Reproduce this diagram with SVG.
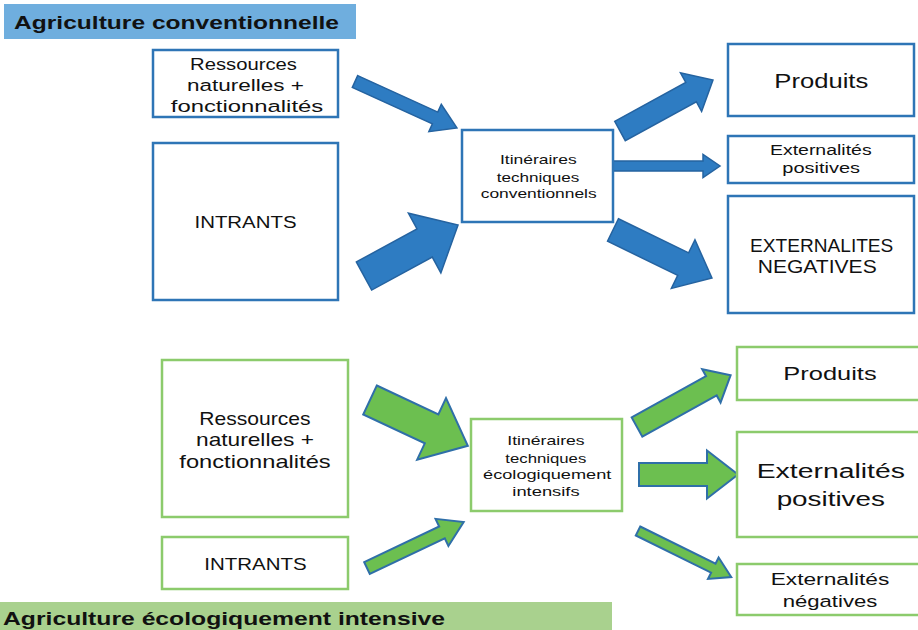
<svg xmlns="http://www.w3.org/2000/svg" width="918" height="630" viewBox="0 0 918 630">
<defs>
<style>
text{font-family:"Liberation Sans","Open Sans",sans-serif;fill:#111;text-anchor:middle}
.title{font-weight:bold;text-anchor:start;font-size:19px}
.bbox{fill:#fff;stroke:#2E75B6;stroke-width:2.5}
.gbox{fill:#fff;stroke:#8CCB6C;stroke-width:2.5}
.barrow{fill:#2E7CC2;stroke:#2563A0;stroke-width:1.5;stroke-linejoin:miter}
.garrow{fill:#6CBF50;stroke:#2F6FA8;stroke-width:2;stroke-linejoin:miter}
</style>
</defs>
<rect width="918" height="630" fill="#fff"/>
<g id="title-conv">
<rect x="4" y="4" width="352" height="35" fill="#6FAEDE"/>
<text class="title" x="14" y="28.5" textLength="325" lengthAdjust="spacingAndGlyphs">Agriculture conventionnelle</text>
</g>
<g id="title-eco">
<rect x="0" y="602" width="612" height="28" fill="#A9D18E"/>
<text class="title" x="3" y="624.5" textLength="442" lengthAdjust="spacingAndGlyphs">Agriculture écologiquement intensive</text>
</g>
<g id="connectors">
<polygon class="barrow" transform="translate(355,81.5) rotate(24.5)" points="0,-6.5 88,-6.5 88,-15 112,0 88,15 88,6.5 0,6.5"/>
<polygon class="barrow" transform="translate(364,276) rotate(-28.5)" points="0,-16 69,-16 69,-34 107,0 69,34 69,16 0,16"/>
<polygon class="barrow" transform="translate(620,131) rotate(-28.7)" points="0,-11 81,-11 81,-22 106,0 81,22 81,11 0,11"/>
<polygon class="barrow" transform="translate(613,166)" points="0,-5 90,-5 90,-11.5 107,0 90,11.5 90,5 0,5"/>
<polygon class="barrow" transform="translate(613,230) rotate(25.9)" points="0,-12.5 78,-12.5 78,-27 110,0 78,27 78,12.5 0,12.5"/>
<polygon class="garrow" transform="translate(370,400) rotate(25.1)" points="0,-16 68,-16 68,-34 108,0 68,34 68,16 0,16"/>
<polygon class="garrow" transform="translate(367,568) rotate(-25.4)" points="0,-6.5 83,-6.5 83,-15 107,0 83,15 83,6.5 0,6.5"/>
<polygon class="garrow" transform="translate(637,427) rotate(-28.95)" points="0,-11 85,-11 85,-19 107,0 85,19 85,11 0,11"/>
<polygon class="garrow" transform="translate(639,474.5)" points="0,-11.5 68,-11.5 68,-24 99,0 68,24 68,11.5 0,11.5"/>
<polygon class="garrow" transform="translate(638,531) rotate(26.3)" points="0,-5 84,-5 84,-12 104,0 84,12 84,5 0,5"/>
</g>
<g id="conv-ressources">
<rect class="bbox" x="153" y="50" width="185" height="67"/>
<text font-size="17.2" x="243.5" y="70" textLength="107" lengthAdjust="spacingAndGlyphs">Ressources</text>
<text font-size="17.2" x="245.5" y="90.5" textLength="117" lengthAdjust="spacingAndGlyphs">naturelles +</text>
<text font-size="17.2" x="247" y="111.5" textLength="152.5" lengthAdjust="spacingAndGlyphs">fonctionnalités</text>
</g>
<g id="conv-intrants">
<rect class="bbox" x="153" y="143" width="185" height="157"/>
<text font-size="17.2" x="245.5" y="228.3" textLength="102" lengthAdjust="spacingAndGlyphs">INTRANTS</text>
</g>
<g id="conv-itineraires">
<rect class="bbox" x="462" y="130" width="151" height="92"/>
<text font-size="12.6" x="538.3" y="164" textLength="76.7" lengthAdjust="spacingAndGlyphs">Itinéraires</text>
<text font-size="12.6" x="538" y="181.5" textLength="82.7" lengthAdjust="spacingAndGlyphs">techniques</text>
<text font-size="12.6" x="538.7" y="198.3" textLength="116" lengthAdjust="spacingAndGlyphs">conventionnels</text>
</g>
<g id="conv-produits">
<rect class="bbox" x="728" y="44" width="186" height="72"/>
<text font-size="21" x="821.3" y="88.3" textLength="94" lengthAdjust="spacingAndGlyphs">Produits</text>
</g>
<g id="conv-ext-pos">
<rect class="bbox" x="728" y="136" width="186" height="47"/>
<text font-size="14" x="820.8" y="155" textLength="101.7" lengthAdjust="spacingAndGlyphs">Externalités</text>
<text font-size="14" x="821.2" y="173.3" textLength="77.7" lengthAdjust="spacingAndGlyphs">positives</text>
</g>
<g id="conv-ext-neg">
<rect class="bbox" x="728" y="196" width="186" height="117"/>
<text font-size="18.6" x="821.7" y="251.7" textLength="143.3" lengthAdjust="spacingAndGlyphs">EXTERNALITES</text>
<text font-size="18.6" x="817.2" y="272.7" textLength="119" lengthAdjust="spacingAndGlyphs">NEGATIVES</text>
</g>
<g id="eco-ressources">
<rect class="gbox" x="162" y="360" width="186" height="157"/>
<text font-size="17.7" x="255" y="425" textLength="111.3" lengthAdjust="spacingAndGlyphs">Ressources</text>
<text font-size="17.7" x="255" y="446" textLength="118" lengthAdjust="spacingAndGlyphs">naturelles +</text>
<text font-size="17.7" x="255" y="467.7" textLength="151.3" lengthAdjust="spacingAndGlyphs">fonctionnalités</text>
</g>
<g id="eco-intrants">
<rect class="gbox" x="162" y="537" width="186" height="52"/>
<text font-size="16.4" x="255.5" y="570" textLength="102.3" lengthAdjust="spacingAndGlyphs">INTRANTS</text>
</g>
<g id="eco-itineraires">
<rect class="gbox" x="471" y="419" width="151" height="92"/>
<text font-size="12.6" x="546" y="445" textLength="77.3" lengthAdjust="spacingAndGlyphs">Itinéraires</text>
<text font-size="12.6" x="545.8" y="462.5" textLength="81" lengthAdjust="spacingAndGlyphs">techniques</text>
<text font-size="12.6" x="547.2" y="479.3" textLength="128.3" lengthAdjust="spacingAndGlyphs">écologiquement</text>
<text font-size="12.6" x="546" y="496" textLength="67.3" lengthAdjust="spacingAndGlyphs">intensifs</text>
</g>
<g id="eco-produits">
<rect class="gbox" x="737" y="347" width="190" height="53"/>
<text font-size="18.6" x="830" y="380" textLength="93.3" lengthAdjust="spacingAndGlyphs">Produits</text>
</g>
<g id="eco-ext-pos">
<rect class="gbox" x="737" y="432" width="190" height="105"/>
<text font-size="20" x="830.8" y="478.3" textLength="148.3" lengthAdjust="spacingAndGlyphs">Externalités</text>
<text font-size="20" x="830.8" y="506" textLength="108.3" lengthAdjust="spacingAndGlyphs">positives</text>
</g>
<g id="eco-ext-neg">
<rect class="gbox" x="737" y="564" width="190" height="51"/>
<text font-size="16.3" x="830" y="585" textLength="118.7" lengthAdjust="spacingAndGlyphs">Externalités</text>
<text font-size="16.3" x="830" y="606.5" textLength="94.7" lengthAdjust="spacingAndGlyphs">négatives</text>
</g>
</svg>
